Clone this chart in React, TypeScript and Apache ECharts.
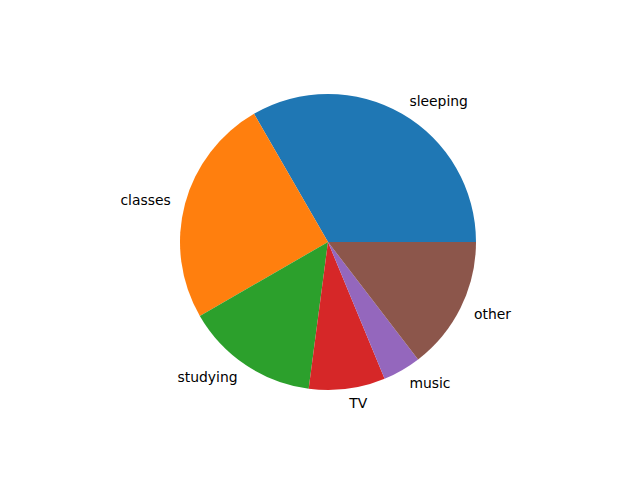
import React, { useEffect, useRef } from "react";
import * as echarts from "echarts";

const categories = ["sleeping", "classes", "studying", "TV", "music", "other"];
const hours = [8, 6, 3.5, 2, 1, 3.5];
const colors = ["#1f77b4", "#ff7f0e", "#2ca02c", "#d62728", "#9467bd", "#8c564b"];

export default function App() {
  const ref = useRef<HTMLDivElement>(null);
  useEffect(() => {
    if (!ref.current) return;
    const chart = echarts.init(ref.current, null, { renderer: "svg" });
    chart.setOption({
      animation: false,
      backgroundColor: "#ffffff",
      series: [
        {
          type: "pie",
          center: [328, 242],
          radius: [0, 148],
          startAngle: 0,
          clockwise: false,
          avoidLabelOverlap: false,
          minShowLabelAngle: 0,
          data: categories.map((c, i) => ({
            name: c,
            value: hours[i],
            itemStyle: { color: colors[i] },
          })),
          itemStyle: { borderWidth: 0 },
          emphasis: { disabled: true },
          label: {
            show: true,
            position: "outside",
            formatter: "{b}",
            fontFamily: "DejaVu Sans",
            fontSize: 13.9,
            color: "#000000",
            distanceToLabelLine: 0,
            alignTo: "none",
          },
          labelLine: { show: false, length: 14.8, length2: 0 },
        },
      ],
    });
    return () => chart.dispose();
  }, []);
  return <div ref={ref} style={{ width: 640, height: 480, position: "absolute", left: 0, top: 0 }} />;
}
